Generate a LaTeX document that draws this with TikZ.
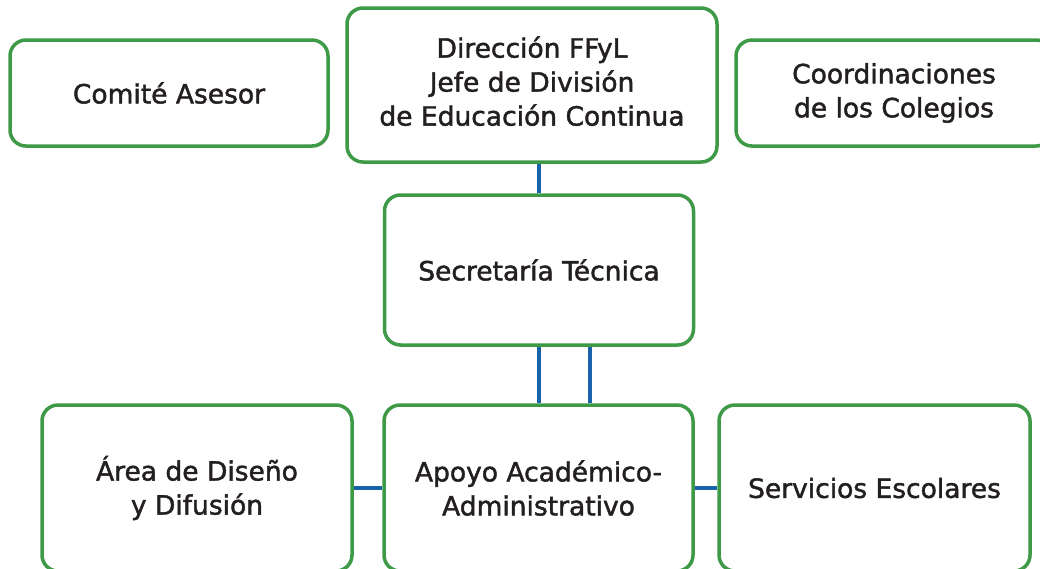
\documentclass[tikz,border=0pt]{standalone}
\usepackage{fontspec}
\newfontfamily\boxfont{DejaVu Sans}[FakeBold=1.6]
\usetikzlibrary{shadows}
\definecolor{boxgreen}{HTML}{3E9A47}
\definecolor{linkblue}{HTML}{1863AB}
\definecolor{textdark}{HTML}{231F20}
\begin{document}
\begin{tikzpicture}[x=1pt, y=-1pt]
% --- Global Styles ---
\tikzstyle{unit} = [draw=boxgreen, line width=3.5pt, rounded corners=16pt, fill=white,
  text=textdark, align=center, font=\boxfont\fontsize{26.5}{34}\selectfont,
  drop shadow={opacity=0.18, shadow xshift=1pt, shadow yshift=-2pt}]
\tikzstyle{link} = [draw=linkblue, line width=3.5pt]

% --- Canvas ---
\useasboundingbox[fill=white] (0,0) rectangle (1040,568);

% ==========================================
% TOP ROW
% ==========================================
\node[unit, minimum width=318, minimum height=106] (comite) at (169,93) {Comité Asesor};
\node[unit, minimum width=370, minimum height=154] (direccion) at (532,85)
  {Dirección FFyL\\Jefe de División\\de Educación Continua\\[-26pt]};
\node[unit, minimum width=316, minimum height=106] (coord) at (894,93)
  {Coordinaciones\\de los Colegios};

% ==========================================
% MIDDLE ROW
% ==========================================
\node[unit, minimum width=309, minimum height=150] (secretaria) at (539,270) {Secretaría Técnica};

% ==========================================
% BOTTOM ROW
% ==========================================
\node[unit, minimum width=310, minimum height=166] (area) at (197,488) {Área de Diseño\\y Difusión};
\node[unit, minimum width=309, minimum height=166] (apoyo) at (538.5,488) {Apoyo Académico-\\Administrativo};
\node[unit, minimum width=311, minimum height=166] (servicios) at (874.5,488) {Servicios Escolares};

% --- Connectors ---
\draw[link] (secretaria.north) -- (secretaria.north |- direccion.south);
\draw[link] (secretaria.south) -- (secretaria.south |- apoyo.north);
\draw[link] ([xshift=51]secretaria.south) -- ([xshift=51]secretaria.south |- apoyo.north);
\draw[link] (area.east) -- (apoyo.west);
\draw[link] (apoyo.east) -- (servicios.west);
\end{tikzpicture}
\end{document}
